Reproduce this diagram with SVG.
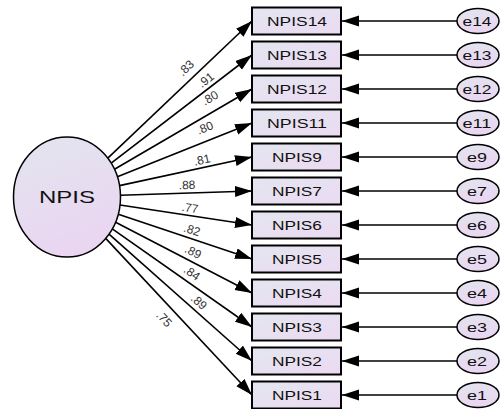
<svg xmlns="http://www.w3.org/2000/svg" width="500" height="409" viewBox="0 0 500 409">
  <defs>
    <linearGradient id="boxFill" x1="0" y1="0" x2="1" y2="1">
      <stop offset="0" stop-color="#e3e6f0"/>
      <stop offset="1" stop-color="#ecdaf2"/>
    </linearGradient>
    <linearGradient id="ovalFill" x1="0" y1="0" x2="0.3" y2="1">
      <stop offset="0" stop-color="#e2e5ef"/>
      <stop offset="1" stop-color="#ead6f1"/>
    </linearGradient>
    <marker id="head" markerUnits="userSpaceOnUse" markerWidth="18" markerHeight="12" refX="17" refY="5.5" orient="auto">
      <path d="M0,0 L17,5.5 L0,11 z" fill="#000"/>
    </marker>
  </defs>
  <style>
    .box { fill: url(#boxFill); stroke: #000; stroke-width: 2; }
    .oval { fill: url(#ovalFill); stroke: #000; stroke-width: 1.5; }
    .err { fill: url(#ovalFill); stroke: #000; stroke-width: 1.5; }
    .lbl { font-family: "Liberation Sans", Arial, sans-serif; font-size: 13px; fill: #111; text-anchor: middle; dominant-baseline: central; }
    .big { font-size: 17px; }
    .w { font-family: "Liberation Sans", Arial, sans-serif; font-size: 12px; fill: #333; text-anchor: middle; dominant-baseline: central; }
    .path { stroke: #000; stroke-width: 1.6; fill: none; marker-end: url(#head); }
  </style>

  <!-- connectors: factor loadings and error terms -->
  <g id="connectors">
    <line class="path" x1="107.8" y1="158.2" x2="252" y2="21"/>
    <line class="path" x1="111.2" y1="163.1" x2="252" y2="55"/>
    <line class="path" x1="114.5" y1="169.3" x2="252" y2="89"/>
    <line class="path" x1="117.4" y1="176.8" x2="252" y2="123"/>
    <line class="path" x1="119.5" y1="185.6" x2="252" y2="157"/>
    <line class="path" x1="120.5" y1="195.3" x2="252" y2="191"/>
    <line class="path" x1="120.0" y1="205.0" x2="252" y2="225"/>
    <line class="path" x1="118.3" y1="214.2" x2="252" y2="259"/>
    <line class="path" x1="115.6" y1="222.2" x2="252" y2="293"/>
    <line class="path" x1="112.3" y1="228.9" x2="252" y2="327"/>
    <line class="path" x1="109.0" y1="234.2" x2="252" y2="361"/>
    <line class="path" x1="105.7" y1="238.4" x2="252" y2="395"/>

    <line class="path" x1="457" y1="21" x2="342" y2="21"/>
    <line class="path" x1="457" y1="55" x2="342" y2="55"/>
    <line class="path" x1="457" y1="89" x2="342" y2="89"/>
    <line class="path" x1="457" y1="123" x2="342" y2="123"/>
    <line class="path" x1="457" y1="157" x2="342" y2="157"/>
    <line class="path" x1="457" y1="191" x2="342" y2="191"/>
    <line class="path" x1="457" y1="225" x2="342" y2="225"/>
    <line class="path" x1="457" y1="259" x2="342" y2="259"/>
    <line class="path" x1="457" y1="293" x2="342" y2="293"/>
    <line class="path" x1="457" y1="327" x2="342" y2="327"/>
    <line class="path" x1="457" y1="361" x2="342" y2="361"/>
    <line class="path" x1="457" y1="395" x2="342" y2="395"/>

    <!-- standardized loadings -->
    <text class="w" transform="translate(186,68) rotate(-43.6)">.83</text>
    <text class="w" transform="translate(206,80) rotate(-37.5)">.91</text>
    <text class="w" transform="translate(210,98) rotate(-30.3)">.80</text>
    <text class="w" transform="translate(205,128) rotate(-21.8)">.80</text>
    <text class="w" transform="translate(202,160) rotate(-12.2)">.81</text>
    <text class="w" transform="translate(187,185) rotate(-1.9)">.88</text>
    <text class="w" transform="translate(190,208) rotate(8.6)">.77</text>
    <text class="w" transform="translate(192,230) rotate(18.5)">.82</text>
    <text class="w" transform="translate(193,252) rotate(27.4)">.89</text>
    <text class="w" transform="translate(192,273) rotate(35.1)">.84</text>
    <text class="w" transform="translate(199,302) rotate(41.6)">.89</text>
    <text class="w" transform="translate(164,319) rotate(47)">.75</text>
  </g>

  <!-- latent factor -->
  <g id="NPIS">
    <ellipse class="oval" cx="67" cy="197" rx="53.5" ry="60"/>
    <text class="lbl big" x="67" y="197" textLength="56" lengthAdjust="spacingAndGlyphs">NPIS</text>
  </g>

  <!-- observed indicators -->
  <g id="NPIS14"><rect class="box" x="252" y="7.5" width="89" height="27"/><text class="lbl" x="297" y="21" textLength="60" lengthAdjust="spacingAndGlyphs">NPIS14</text></g>
  <g id="NPIS13"><rect class="box" x="252" y="41.5" width="89" height="27"/><text class="lbl" x="297" y="55" textLength="60" lengthAdjust="spacingAndGlyphs">NPIS13</text></g>
  <g id="NPIS12"><rect class="box" x="252" y="75.5" width="89" height="27"/><text class="lbl" x="297" y="89" textLength="60" lengthAdjust="spacingAndGlyphs">NPIS12</text></g>
  <g id="NPIS11"><rect class="box" x="252" y="109.5" width="89" height="27"/><text class="lbl" x="297" y="123" textLength="60" lengthAdjust="spacingAndGlyphs">NPIS11</text></g>
  <g id="NPIS9"><rect class="box" x="252" y="143.5" width="89" height="27"/><text class="lbl" x="297" y="157" textLength="50" lengthAdjust="spacingAndGlyphs">NPIS9</text></g>
  <g id="NPIS7"><rect class="box" x="252" y="177.5" width="89" height="27"/><text class="lbl" x="297" y="191" textLength="50" lengthAdjust="spacingAndGlyphs">NPIS7</text></g>
  <g id="NPIS6"><rect class="box" x="252" y="211.5" width="89" height="27"/><text class="lbl" x="297" y="225" textLength="50" lengthAdjust="spacingAndGlyphs">NPIS6</text></g>
  <g id="NPIS5"><rect class="box" x="252" y="245.5" width="89" height="27"/><text class="lbl" x="297" y="259" textLength="50" lengthAdjust="spacingAndGlyphs">NPIS5</text></g>
  <g id="NPIS4"><rect class="box" x="252" y="279.5" width="89" height="27"/><text class="lbl" x="297" y="293" textLength="50" lengthAdjust="spacingAndGlyphs">NPIS4</text></g>
  <g id="NPIS3"><rect class="box" x="252" y="313.5" width="89" height="27"/><text class="lbl" x="297" y="327" textLength="50" lengthAdjust="spacingAndGlyphs">NPIS3</text></g>
  <g id="NPIS2"><rect class="box" x="252" y="347.5" width="89" height="27"/><text class="lbl" x="297" y="361" textLength="50" lengthAdjust="spacingAndGlyphs">NPIS2</text></g>
  <g id="NPIS1"><rect class="box" x="252" y="381.5" width="89" height="27"/><text class="lbl" x="297" y="395" textLength="50" lengthAdjust="spacingAndGlyphs">NPIS1</text></g>

  <!-- error terms -->
  <g id="e14"><ellipse class="err" cx="478" cy="21" rx="21" ry="12.5"/><text class="lbl" x="477" y="21" textLength="29" lengthAdjust="spacingAndGlyphs">e14</text></g>
  <g id="e13"><ellipse class="err" cx="478" cy="55" rx="21" ry="12.5"/><text class="lbl" x="477" y="55" textLength="29" lengthAdjust="spacingAndGlyphs">e13</text></g>
  <g id="e12"><ellipse class="err" cx="478" cy="89" rx="21" ry="12.5"/><text class="lbl" x="477" y="89" textLength="29" lengthAdjust="spacingAndGlyphs">e12</text></g>
  <g id="e11"><ellipse class="err" cx="478" cy="123" rx="21" ry="12.5"/><text class="lbl" x="477" y="123" textLength="29" lengthAdjust="spacingAndGlyphs">e11</text></g>
  <g id="e9"><ellipse class="err" cx="478" cy="157" rx="21" ry="12.5"/><text class="lbl" x="477" y="157" textLength="20" lengthAdjust="spacingAndGlyphs">e9</text></g>
  <g id="e7"><ellipse class="err" cx="478" cy="191" rx="21" ry="12.5"/><text class="lbl" x="477" y="191" textLength="20" lengthAdjust="spacingAndGlyphs">e7</text></g>
  <g id="e6"><ellipse class="err" cx="478" cy="225" rx="21" ry="12.5"/><text class="lbl" x="477" y="225" textLength="20" lengthAdjust="spacingAndGlyphs">e6</text></g>
  <g id="e5"><ellipse class="err" cx="478" cy="259" rx="21" ry="12.5"/><text class="lbl" x="477" y="259" textLength="20" lengthAdjust="spacingAndGlyphs">e5</text></g>
  <g id="e4"><ellipse class="err" cx="478" cy="293" rx="21" ry="12.5"/><text class="lbl" x="477" y="293" textLength="20" lengthAdjust="spacingAndGlyphs">e4</text></g>
  <g id="e3"><ellipse class="err" cx="478" cy="327" rx="21" ry="12.5"/><text class="lbl" x="477" y="327" textLength="20" lengthAdjust="spacingAndGlyphs">e3</text></g>
  <g id="e2"><ellipse class="err" cx="478" cy="361" rx="21" ry="12.5"/><text class="lbl" x="477" y="361" textLength="20" lengthAdjust="spacingAndGlyphs">e2</text></g>
  <g id="e1"><ellipse class="err" cx="478" cy="395" rx="21" ry="12.5"/><text class="lbl" x="477" y="395" textLength="20" lengthAdjust="spacingAndGlyphs">e1</text></g>
</svg>
